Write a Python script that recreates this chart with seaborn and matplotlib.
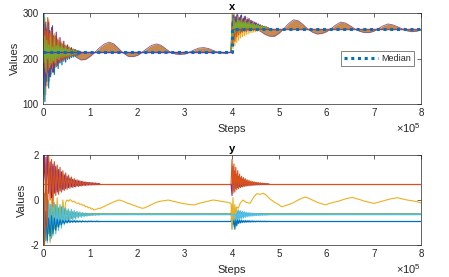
import numpy as np
import pandas as pd
import matplotlib
matplotlib.use("Agg")
import matplotlib.pyplot as plt
import seaborn as sns

# ---------------- data (steps in units of 1e5) ----------------
# top panel "x"
x_median_levels = [214, 265]          # median before / after the switch
x_switch = 4.0

x_band1_steps = [0.5, 0.6, 0.7, 0.8, 0.9, 1.0, 1.1, 1.2, 1.3, 1.4, 1.5, 1.6, 1.7, 1.8, 1.9,
                 2.0, 2.1, 2.2, 2.3, 2.4, 2.5, 2.6, 2.7, 2.8, 2.9, 3.0, 3.1, 3.2, 3.3, 3.4,
                 3.5, 3.6, 3.7, 3.8, 3.9]
x_band1_outer = [220, 212, 203, 197, 198, 205, 214, 224, 232, 236, 232, 222, 212, 205, 204,
                 207, 214, 222, 229, 232, 229, 221, 214, 210, 209, 210, 214, 219, 223, 224,
                 222, 218, 214, 212, 211]
x_band2_steps = [4.5, 4.6, 4.7, 4.8, 4.9, 5.0, 5.1, 5.2, 5.3, 5.4, 5.5, 5.6, 5.7, 5.8, 5.9,
                 6.0, 6.1, 6.2, 6.3, 6.4, 6.5, 6.6, 6.7, 6.8, 6.9, 7.0, 7.1, 7.2, 7.3, 7.4,
                 7.5, 7.6, 7.7, 7.8, 7.9, 8.0]
x_band2_outer = [265, 260, 253, 249, 249, 256, 266, 277, 285, 283, 275, 265, 258, 254, 255,
                 259, 266, 274, 280, 278, 272, 265, 260, 257, 257, 260, 266, 272, 276, 274,
                 270, 265, 261, 259, 260, 263]

# early transient (steps 0.00 .. 0.80, every 0.02)
x_early = {
    "#EDB120": [300, 110, 290, 120, 270, 140, 285, 150, 260, 165, 250, 175, 255, 180, 240, 185, 245, 190, 232, 193,
                238, 196, 228, 199, 230, 200, 224, 202, 226, 204, 220, 205, 221, 206, 218, 207, 218, 208, 216, 209, 215],
    "#0072BD": [120, 300, 105, 280, 150, 275, 135, 262, 160, 268, 170, 250, 165, 248, 182, 240, 178, 236, 190, 232,
                186, 230, 194, 228, 192, 226, 198, 224, 199, 222, 202, 220, 203, 219, 205, 218, 206, 217, 208, 216, 210],
    "#7E2F8E": [250, 160, 275, 140, 265, 170, 280, 160, 245, 178, 272, 170, 238, 188, 258, 185, 235, 192, 246, 195,
                230, 199, 238, 200, 226, 203, 230, 205, 222, 206, 224, 207, 219, 208, 220, 209, 217, 210, 216, 211, 214],
    "#D95319": [200, 280, 180, 260, 165, 290, 175, 255, 185, 262, 178, 248, 190, 250, 184, 242, 195, 240, 192, 234,
                198, 232, 196, 228, 201, 227, 200, 224, 204, 222, 205, 220, 207, 219, 208, 218, 209, 217, 210, 216, 212],
    "#77AC30": [230, 190, 250, 170, 240, 200, 230, 180, 250, 190, 225, 195, 242, 190, 228, 200, 236, 198, 226, 202,
                232, 203, 222, 204, 228, 205, 220, 206, 224, 207, 218, 208, 221, 209, 217, 210, 218, 211, 215, 212, 214],
}
# transient after the switch (steps 3.98 .. 4.78, every 0.02)
x_late = {
    "#EDB120": [214, 300, 222, 298, 228, 290, 235, 292, 240, 285, 245, 288, 248, 286, 250, 284, 252, 290, 254, 282,
                256, 284, 257, 280, 258, 278, 259, 277, 260, 275, 261, 273, 261, 272, 262, 270, 262, 269, 263, 268, 264],
    "#0072BD": [214, 240, 295, 250, 290, 255, 296, 258, 288, 262, 294, 260, 285, 264, 292, 262, 282, 265, 286, 263,
                280, 264, 282, 265, 276, 264, 278, 265, 274, 265, 273, 265, 271, 265, 270, 265, 269, 265, 268, 265, 267],
    "#7E2F8E": [214, 280, 245, 296, 260, 292, 268, 297, 265, 290, 270, 296, 266, 288, 272, 293, 266, 286, 270, 288,
                266, 284, 268, 282, 265, 280, 267, 278, 265, 276, 266, 274, 265, 272, 266, 271, 265, 270, 266, 268, 265],
    "#D95319": [214, 260, 230, 285, 238, 275, 248, 293, 252, 280, 256, 290, 258, 278, 260, 285, 259, 276, 262, 282,
                261, 275, 263, 278, 262, 273, 263, 274, 263, 271, 264, 271, 264, 269, 264, 268, 265, 268, 265, 267, 265],
    "#77AC30": [214, 270, 250, 288, 256, 280, 262, 290, 258, 283, 264, 287, 262, 280, 266, 284, 263, 279, 266, 281,
                264, 277, 266, 278, 265, 275, 266, 275, 265, 273, 266, 272, 265, 271, 266, 270, 265, 269, 266, 268, 265],
}

# bottom panel "y"  (drawn in this order)
y_levels = {"#77AC30": -0.6, "#4DBEEE": -0.64, "#0072BD": -0.95, "#D95319": 0.7}

# early transient (steps 0.00 .. 1.20, every 0.03)
y_early = {
    "#EDB120": [0.3, -2.0, 0.5, -1.6, 0.0, -1.9, 0.2, -1.4, -0.1, -1.2, 0.1, -1.0, -0.3, -0.8, 0.0, -0.6, -0.1, 0.0, -0.05, 0.02,
                -0.03, -0.08, -0.05, -0.12, -0.15, -0.13, -0.2, -0.18, -0.24, -0.22, -0.3, -0.28, -0.35, -0.33, -0.4, -0.38, -0.45, -0.42, -0.4, -0.38, -0.36],
    "#77AC30": [-1.0, 0.3, -1.8, 0.0, -1.5, -0.2, -1.7, -0.3, -1.3, -0.2, -1.2, -0.35, -1.1, -0.3, -1.0, -0.4, -0.95, -0.45, -0.88, -0.5,
                -0.82, -0.52, -0.78, -0.55, -0.75, -0.57, -0.72, -0.58, -0.7, -0.59, -0.69, -0.6, -0.68, -0.61, -0.67, -0.62, -0.66, -0.62, -0.65, -0.63, -0.63],
    "#4DBEEE": [0.5, -2.0, 0.2, -1.9, -0.1, -1.8, -0.2, -1.6, -0.15, -1.5, -0.25, -1.35, -0.2, -1.25, -0.3, -1.1, -0.35, -1.0, -0.4, -0.95,
                -0.42, -0.9, -0.47, -0.85, -0.5, -0.8, -0.53, -0.77, -0.56, -0.74, -0.58, -0.72, -0.6, -0.7, -0.61, -0.69, -0.62, -0.68, -0.63, -0.67, -0.65],
    "#0072BD": [-1.0, -2.0, -0.5, -1.8, -0.8, -1.6, -0.7, -1.5, -0.8, -1.35, -0.85, -1.2, -0.88, -1.1, -0.9, -1.05, -0.92, -1.02, -0.9, -1.0,
                -0.93, -0.99, -0.91, -0.99, -0.92, -0.98, -0.93, -0.98, -0.93, -0.97, -0.94, -0.97, -0.94, -0.96, -0.94, -0.96, -0.95, -0.96, -0.94, -0.96, -0.95],
    "#A2142F": [0.5, 1.8, 0.2, 1.9, 0.6, 1.4, 0.1, 1.5, 0.5, 1.3, 0.35, 1.25, 0.55, 1.1, 0.45, 1.05, 0.6, 0.95, 0.55, 0.92,
                0.62, 0.88, 0.6, 0.85, 0.65, 0.82, 0.64, 0.8, 0.67, 0.78, 0.67, 0.77, 0.68, 0.76, 0.685, 0.75, 0.69, 0.74, 0.69, 0.72, 0.7],
    "#7E2F8E": [1.5, 2.0, 0.5, 2.0, 0.3, 1.7, 0.4, 1.6, 0.3, 1.5, 0.45, 1.35, 0.4, 1.25, 0.5, 1.12, 0.5, 1.05, 0.55, 0.98,
                0.58, 0.92, 0.6, 0.88, 0.62, 0.85, 0.63, 0.82, 0.65, 0.8, 0.66, 0.78, 0.67, 0.77, 0.675, 0.76, 0.68, 0.75, 0.685, 0.73, 0.7],
    "#D95319": [2.0, -2.0, 1.9, -1.2, 2.0, 0.0, 1.8, -0.3, 1.7, 0.2, 1.55, 0.25, 1.45, 0.35, 1.3, 0.42, 1.2, 0.47, 1.1, 0.52,
                1.02, 0.55, 0.95, 0.58, 0.9, 0.6, 0.86, 0.62, 0.83, 0.64, 0.8, 0.65, 0.78, 0.66, 0.77, 0.67, 0.76, 0.675, 0.745, 0.68, 0.72],
}
# transient after the switch (steps 3.98 .. 4.78, every 0.02)
y_late = {
    "#77AC30": [-0.6, -0.2, -1.0, -0.4, -0.9, -0.45, -0.85, -0.5, -0.8, -0.52, -0.76, -0.55, -0.74, -0.57, -0.72, -0.58, -0.7, -0.59, -0.69, -0.6,
                -0.68, -0.6, -0.67, -0.61, -0.66, -0.61, -0.66, -0.62, -0.65, -0.62, -0.65, -0.62, -0.64, -0.62, -0.64, -0.63, -0.64, -0.63, -0.63, -0.63, -0.6],
    "#4DBEEE": [-0.64, -1.3, -0.3, -1.2, -0.35, -1.05, -0.4, -0.95, -0.45, -0.9, -0.48, -0.85, -0.5, -0.8, -0.52, -0.78, -0.54, -0.75, -0.56, -0.73,
                -0.57, -0.72, -0.58, -0.71, -0.59, -0.7, -0.6, -0.69, -0.61, -0.69, -0.61, -0.68, -0.62, -0.68, -0.62, -0.67, -0.63, -0.67, -0.63, -0.66, -0.64],
    "#0072BD": [-0.95, -0.7, -1.1, -0.85, -1.3, -0.9, -1.15, -0.88, -1.05, -0.9, -1.02, -0.9, -1.0, -0.92, -0.99, -0.91, -0.99, -0.92, -0.98, -0.92,
                -0.98, -0.93, -0.97, -0.93, -0.97, -0.94, -0.97, -0.94, -0.96, -0.94, -0.96, -0.94, -0.96, -0.95, -0.96, -0.94, -0.96, -0.95, -0.96, -0.95, -0.95],
    "#7E2F8E": [0.7, 0.2, 1.5, 0.4, 1.3, 0.5, 1.15, 0.55, 1.05, 0.58, 0.98, 0.6, 0.93, 0.62, 0.9, 0.63, 0.86, 0.64, 0.84, 0.65,
                0.81, 0.66, 0.8, 0.67, 0.78, 0.675, 0.77, 0.68, 0.76, 0.68, 0.75, 0.685, 0.74, 0.69, 0.735, 0.69, 0.73, 0.695, 0.72, 0.7, 0.71],
    "#D95319": [0.7, 1.8, 0.3, 1.6, 0.35, 1.45, 0.45, 1.3, 0.5, 1.15, 0.55, 1.05, 0.58, 1.0, 0.6, 0.95, 0.62, 0.9, 0.63, 0.87,
                0.64, 0.84, 0.65, 0.82, 0.66, 0.8, 0.665, 0.78, 0.67, 0.77, 0.675, 0.76, 0.68, 0.75, 0.685, 0.74, 0.69, 0.73, 0.69, 0.72, 0.7],
}
# wandering yellow trace
y_wander_steps = [1.2, 1.3, 1.4, 1.5, 1.6, 1.65, 1.7, 1.8, 1.9, 2.0, 2.1, 2.15, 2.2, 2.3, 2.4, 2.5, 2.6, 2.65, 2.7, 2.8,
                  2.9, 3.0, 3.1, 3.2, 3.3, 3.4, 3.5, 3.6, 3.7, 3.8, 3.9, 3.98, 4.0, 4.02, 4.04, 4.06, 4.08, 4.1, 4.13, 4.17,
                  4.23, 4.3, 4.38, 4.45, 4.52, 4.6, 4.66, 4.72, 4.8, 4.9, 5.0, 5.05, 5.1, 5.2, 5.3, 5.4, 5.5, 5.56, 5.62, 5.7,
                  5.8, 5.9, 5.98, 6.05, 6.15, 6.23, 6.3, 6.4, 6.5, 6.55, 6.6, 6.7, 6.8, 6.9, 7.0, 7.1, 7.2, 7.3, 7.4, 7.5,
                  7.6, 7.7, 7.8, 7.9, 8.0]
y_wander_vals = [-0.38, -0.28, -0.18, -0.08, 0.0, -0.02, -0.06, -0.15, -0.22, -0.3, -0.37, -0.35, -0.3, -0.2, -0.1, -0.05, -0.02, 0.0, -0.03, -0.08,
                 -0.13, -0.17, -0.2, -0.22, -0.15, -0.1, -0.05, 0.0, -0.03, -0.07, -0.1, -0.15, -1.3, 0.1, -0.9, -0.2, -0.6, -0.3, -0.37, -0.15,
                 0.0, -0.1, -0.15, 0.1, 0.28, 0.25, 0.3, 0.22, 0.05, -0.1, -0.22, -0.3, -0.27, -0.2, -0.12, 0.0, 0.1, 0.13, 0.08, 0.0,
                 -0.1, -0.17, -0.22, -0.16, -0.1, -0.07, -0.02, 0.05, 0.1, 0.12, 0.08, 0.02, -0.05, -0.1, -0.15, -0.1, -0.04, 0.02, 0.07, 0.1,
                 0.05, 0.0, -0.03, -0.07, -0.13]

x_ticks = [0, 1, 2, 3, 4, 5, 6, 7, 8]
x_top_yticks = [100, 200, 300]
x_bot_yticks = [-2, 0, 2]

# ---------------- plotting ----------------
sns.set_style("white")
plt.rcParams['font.family'] = ['Liberation Sans', 'DejaVu Sans']
plt.rcParams['mathtext.fontset'] = 'custom'
plt.rcParams['mathtext.rm'] = 'Liberation Sans'
TXT = '#262626'

fig = plt.figure(figsize=(4.49, 2.77), dpi=100)
ax1 = fig.add_axes([0.0958, 0.6245, 0.8419, 0.3285])
ax2 = fig.add_axes([0.0958, 0.1155, 0.8419, 0.325])


def draw(ax, steps, vals, color, lw=0.7, **kw):
    df = pd.DataFrame({"s": steps, "v": vals})
    sns.lineplot(data=df, x="s", y="v", ax=ax, color=color, lw=lw,
                 estimator=None, sort=False, legend=False, **kw)


grid_x_early = np.round(np.arange(41) * 0.02, 3)
grid_late = np.round(3.98 + np.arange(41) * 0.02, 3)
grid_y_early = np.round(np.arange(41) * 0.03, 3)

# --- top ---
ax1.fill_between(x_band1_steps, x_median_levels[0], x_band1_outer, color='#C98A4E', lw=0, zorder=1)
ax1.fill_between(x_band2_steps, x_median_levels[1], x_band2_outer, color='#C98A4E', lw=0, zorder=1)
draw(ax1, x_band1_steps, x_band1_outer, '#8A5A8A', lw=0.6)
draw(ax1, x_band2_steps, x_band2_outer, '#8A5A8A', lw=0.6)
for col, vals in x_early.items():
    draw(ax1, grid_x_early, vals, col, lw=0.8)
for col, vals in x_late.items():
    draw(ax1, grid_late, vals, col, lw=0.8)
draw(ax1, [0, x_switch], [x_median_levels[0]] * 2, '#7E2F8E', lw=1.0)
draw(ax1, [x_switch, 8], [x_median_levels[1]] * 2, '#B0453A', lw=1.0)
med = pd.DataFrame({"s": [0, x_switch, x_switch, 8],
                    "v": [x_median_levels[0], x_median_levels[0], x_median_levels[1], x_median_levels[1]]})
sns.lineplot(data=med, x="s", y="v", ax=ax1, color='#0072BD', lw=2.2, linestyle=(0, (1, 1.2)),
             estimator=None, sort=False, label='Median')

# --- bottom ---
for col, lvl in y_levels.items():
    draw(ax2, [0, 8], [lvl, lvl], col, lw=0.6 if col == "#77AC30" else 0.9)
for col, vals in y_early.items():
    draw(ax2, grid_y_early, vals, col, lw=0.8)
for col, vals in y_late.items():
    draw(ax2, grid_late, vals, col, lw=0.8)
draw(ax2, y_wander_steps, y_wander_vals, '#EDB120', lw=0.8)
draw(ax2, [1.2, 8], [y_levels["#4DBEEE"]] * 2, '#4DBEEE', lw=0.9)

for ax, yt, title in [(ax1, x_top_yticks, 'x'), (ax2, x_bot_yticks, 'y')]:
    ax.set_xlim(0, 8)
    ax.set_ylim(yt[0], yt[-1])
    ax.set_xticks(x_ticks)
    ax.set_yticks(yt)
    ax.set_xticklabels([str(t) for t in x_ticks])
    ax.set_yticklabels([str(t) for t in yt])
    ax.tick_params(direction='in', top=True, right=True, length=3, width=0.5,
                   labelsize=7, colors=TXT, pad=3)
    for sp in ax.spines.values():
        sp.set_visible(True)
        sp.set_color(TXT)
        sp.set_linewidth(0.5)
    ax.set_xlabel('Steps', fontsize=8, color=TXT, labelpad=4)
    ax.set_ylabel('Values', fontsize=8, color=TXT, labelpad=2)
    ax.set_title(title, fontsize=8, fontweight='bold', color='black', pad=2)
    ax.text(1.0, -0.19, r'$\times10^{5}$', transform=ax.transAxes, ha='right', va='top',
            fontsize=8, color=TXT)

leg = ax1.legend(loc='center right', fontsize=6.5, frameon=True, fancybox=False,
                 handlelength=3.8, handletextpad=0.3, borderpad=0.35, borderaxespad=0.8)
leg.get_frame().set_edgecolor(TXT)
leg.get_frame().set_linewidth(0.5)
for t in leg.get_texts():
    t.set_color(TXT)

fig.savefig('out.png', dpi=100)
